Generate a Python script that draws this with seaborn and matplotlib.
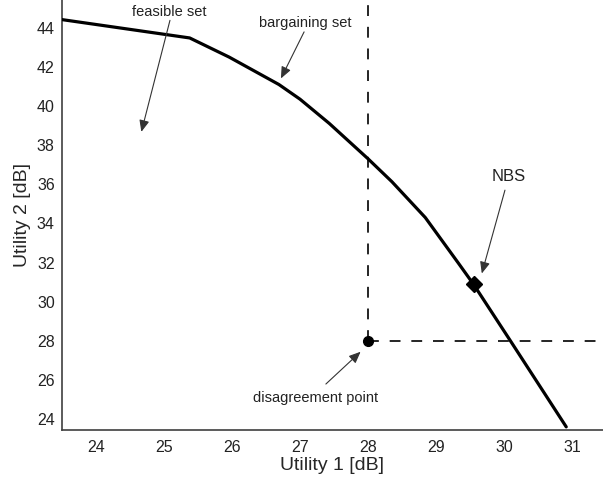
import numpy as np
import pandas as pd
import matplotlib
matplotlib.use("Agg")
import matplotlib.pyplot as plt
import seaborn as sns

# ---- data ----
curve_u1 = [23.5, 25.38, 25.96, 26.69, 27.0, 27.43, 28.0, 28.35, 28.84, 29.33, 29.55, 30.09, 30.91]
curve_u2 = [44.42, 43.48, 42.5, 41.1, 40.35, 39.11, 37.3, 36.13, 34.3, 31.95, 30.88, 28.0, 23.6]
disagreement = (28.0, 28.0)
nbs = (29.55, 30.88)
x_ticks = [24, 25, 26, 27, 28, 29, 30, 31]
y_ticks = [24, 26, 28, 30, 32, 34, 36, 38, 40, 42, 44]
x_label = "Utility 1 [dB]"
y_label = "Utility 2 [dB]"
xlim = (23.5, 31.45)
ylim = (23.44, 45.42)

# annotations: text, text position, arrow tail, arrow tip
ann_text = ["feasible set", "bargaining set", "NBS", "disagreement point"]
ann_text_xy = [(25.08, 44.8), (27.07, 44.22), (30.06, 36.38), (27.23, 25.06)]
ann_tail = [(25.09, 44.38), (27.06, 43.79), (30.01, 35.7), (27.38, 25.79)]
ann_tip = [(24.67, 38.68), (26.72, 41.41), (29.67, 31.44), (27.89, 27.44)]
ann_size = [10.5, 10.5, 12, 10.5]

sns.set_style("white")
plt.rcParams['font.family'] = ['Liberation Sans', 'DejaVu Sans']

fig = plt.figure(figsize=(6.03, 4.84), dpi=100)
ax = fig.add_axes([61.7 / 603, 54 / 484, 1 - 61.7 / 603, 1 - 54 / 484])

df = pd.DataFrame({"u1": curve_u1, "u2": curve_u2})
sns.lineplot(data=df, x="u1", y="u2", sort=False, color="black", lw=2.3, ax=ax, zorder=3)

# dashed lines from disagreement point
dash_kw = dict(color="black", lw=1.2, dashes=(6.5, 6.5))
ax.plot([disagreement[0], disagreement[0]], [disagreement[1], ylim[1]], **dash_kw)
ax.plot([disagreement[0], xlim[1]], [disagreement[1], disagreement[1]], **dash_kw)

ax.plot([disagreement[0]], [disagreement[1]], marker="o", ms=7, color="black", zorder=4)
ax.plot([nbs[0]], [nbs[1]], marker="D", ms=8, color="black", zorder=4)

for t, txy, tail, tip, fs in zip(ann_text, ann_text_xy, ann_tail, ann_tip, ann_size):
    ax.text(txy[0], txy[1], t, ha="center", va="center", fontsize=fs, color="#222222")
    ax.annotate("", xy=tip, xytext=tail,
                arrowprops=dict(arrowstyle="-|>,head_length=0.7,head_width=0.3",
                                color="#333333", lw=0.8, shrinkA=0, shrinkB=0))

ax.set_xlim(*xlim)
ax.set_ylim(*ylim)
ax.set_xticks(x_ticks)
ax.set_yticks(y_ticks)
ax.set_xlabel(x_label, fontsize=14, labelpad=2)
ax.set_ylabel(y_label, fontsize=14, labelpad=4)
ax.tick_params(direction="in", length=5, width=1, color="#333333", labelsize=11.5, pad=5,
               labelcolor="#222222")
ax.tick_params(axis="x", pad=7)
for s in ["top", "right"]:
    ax.spines[s].set_visible(False)
for s in ["left", "bottom"]:
    ax.spines[s].set_color("#404040")
    ax.spines[s].set_linewidth(1.2)

fig.savefig("out.png", dpi=100)
